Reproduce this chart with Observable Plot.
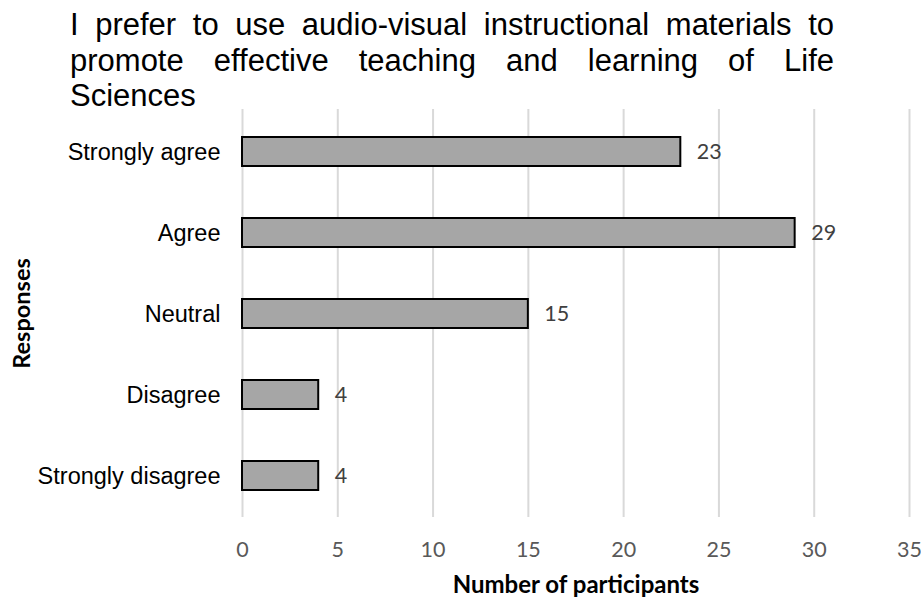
<!DOCTYPE html>
<html>
<head>
<meta charset="utf-8">
<script src="https://cdn.jsdelivr.net/npm/d3@7"></script>
<script src="https://cdn.jsdelivr.net/npm/@observablehq/plot@0.6"></script>
<style>
  html, body { margin: 0; padding: 0; background: #fff; }
  #wrap { position: relative; width: 921px; height: 599px; overflow: hidden; }
  #title {
    position: absolute; left: 70px; top: 7px; width: 764px;
    font-family: "Liberation Sans", Arial, sans-serif; font-size: 31px;
    line-height: 35.5px; color: #000;
  }
  #title .j { text-align: justify; text-align-last: justify; }
  #chart { position: absolute; left: 0; top: 0; }
</style>
</head>
<body>
<div id="wrap">
  <div id="chart"></div>
  <div id="title">
    <div class="j">I prefer to use audio-visual instructional materials to</div>
    <div class="j">promote effective teaching and learning of Life</div>
    <div>Sciences</div>
  </div>
</div>
<script>
// Survey responses and participant counts
const responses = ["Strongly agree", "Agree", "Neutral", "Disagree", "Strongly disagree"];
const participants = [23, 29, 15, 4, 4];
const xTicks = [0, 5, 10, 15, 20, 25, 30, 35];
const xLabel = "Number of participants";
const yLabel = "Responses";

const rows = responses.map((r, i) => ({response: r, count: participants[i]}));

const numFont = "Lato, 'Open Sans', sans-serif";

const chart = Plot.plot({
  width: 921,
  height: 599,
  marginTop: 109,
  marginBottom: 82,
  marginLeft: 242,
  marginRight: 12,
  style: {fontFamily: "'Liberation Sans', Arial, sans-serif", background: "#fff"},
  x: {domain: [0, 35]},
  y: {domain: responses, paddingInner: 0.645, paddingOuter: 0.3225},
  marks: [
    Plot.gridX(xTicks, {stroke: "#d9d9d9", strokeOpacity: 1, strokeWidth: 2}),
    Plot.barX(rows, {
      x: "count", y: "response",
      fill: "#a6a6a6", stroke: "#000", strokeWidth: 2
    }),
    Plot.text(rows, {
      x: "count", y: "response", text: d => String(d.count),
      dx: 16, textAnchor: "start",
      fontFamily: numFont, fontSize: 21.5, fill: "#404040"
    }),
    Plot.axisY({
      tickSize: 0, tickPadding: 22, label: null,
      fontSize: 23.5, fill: "#000"
    }),
    Plot.axisX(xTicks, {
      tickSize: 0, tickPadding: 24, label: null,
      fontFamily: numFont, fontSize: 21.5, fill: "#595959"
    }),
    Plot.text([xLabel], {
      frameAnchor: "bottom", dy: 68, text: d => d,
      lineAnchor: "middle", textAnchor: "middle",
      fontFamily: numFont, fontWeight: "bold", fontSize: 24, fill: "#000"
    }),
    Plot.text([yLabel], {
      frameAnchor: "left", dx: -220, rotate: -90, text: d => d,
      lineAnchor: "middle", textAnchor: "middle",
      fontFamily: numFont, fontWeight: "bold", fontSize: 23.5, fill: "#000"
    })
  ]
});

document.getElementById("chart").appendChild(chart);
</script>
</body>
</html>
